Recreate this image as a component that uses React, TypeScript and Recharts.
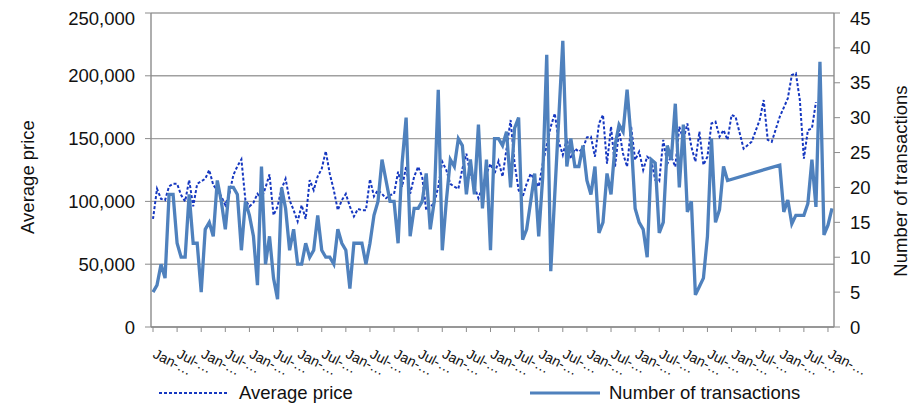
import React from 'react'
import { LineChart, Line, XAxis, YAxis, CartesianGrid, Legend } from 'recharts'

const FONT = '"Liberation Sans", Arial, sans-serif'
const priceColor = '#1537c0'
const countColor = '#4f81bd'
const axisColor = '#8c8c8c'
const gridColor = '#a0a0a0'

const monthNames = ['Jan', 'Feb', 'Mar', 'Apr', 'May', 'Jun', 'Jul', 'Aug', 'Sep', 'Oct', 'Nov', 'Dec']
const startYear = 2005

// average price per month (null = no reading, line is joined across)
const avgPrice: (number | null)[] = [
	86000, 110000, 102000, 101000, 112000, 114000, 114000, 105000, 100000, 117000,
	96000, 114000, null, 118000, 125000, 113000, 109000, 104000, 97000, 106000,
	121000, 128000, 133500, 101000, 96000, 99000, 106000, 102000, 111000, 121500,
	89000, 96000, 110000, 118000, 101000, 93000, 84000, 97000, 86000, 117000,
	109000, 120000, 126000, 140000, 122000, 109000, 93000, 101000, 106000, 96000,
	88000, 94000, 93000, 93000, 117600, 104000, 109000, 106000, 102500, 105000,
	106000, 123600, 111700, 127600, 106000, 119700, 127600, 119700, 93000, null,
	98500, 111700, 131600, 125000, 114000, 111700, 110000, 126000, 138000, 122000,
	111700, 102500, 111700, 122000, 130000, 122000, 132000, 119700, 142000, 164800,
	130000, 109000, 103700, 114000, 122000, null, 111700, 130000, null, 159500,
	170000, 147500, 137000, 150000, 134000, 142000, 139600, 142000, 151000, 151500,
	135600, 162000, 168800, 130000, 159500, 127600, 156800, 138000, 127600, 159500,
	133000, 139600, 125000, 135600, 133000, 117000, 116000, 149000, 130000, 135600,
	127600, 159500, 149000, 162000, 143500, 131600, 155500, 129000, 135600, 162000,
	163500, 151500, 156800, 149000, 168800, 167400, null, 142000, null, 147500,
	null, 164800, 180700, 149000, 147500, null, 167400, null, 182000, 200600,
	202000, 180700, 134000, 156800, 158000, 179000, null, null, null, null,
]

// number of transactions per month
const transactions: (number | null)[] = [
	5, 6, 9, 7, 19, 19, 12, 10, 10, 19,
	12, 12, 5, 14, 15, 13, 21, 18, 14, 20,
	20, 19, 11, 18, 16, 13, 6, 23, 9, 13,
	7, 4, 20, 17, 11, 14, 9, 9, 12, 10,
	11, 16, 11, 10, 10, 9, 14, 12, 11, 5.5,
	12, 12, 12, 9, 12, 16, 18, 24, 21, 18,
	18, 12, 23.5, 30, 13, 17, 17, 18, 22, 14,
	18, 34, 11, 18, 24, 23, 27, 26, 19, 24,
	19, 29, 17, 24, 11, 27, 27, 26, 28, 20,
	28.5, 30, 12.5, 14, 18, 22, 13, 21.5, 39, 8,
	19, 30, 41, 23, 27, 23, 23, 26, 21, 19,
	23, 13.5, 15, 22, 19, 26, 29, 28, 34, 27,
	17, 15, 14, 10, 24, 23.5, 13.5, 15, 26, 24,
	32, 20, 29, 16.5, 18, 4.6, 5.8, 7, 13, 27,
	15, 16.8, 23, 21, null, null, null, null, null, null,
	null, null, null, null, null, null, 23.2, 16.5, 18.2, 14.8,
	16, 16, 16, 17.7, 24, 17.2, 38, 13.2, 14.6, 17,
]

const priceTicks = [0, 50000, 100000, 150000, 200000, 250000]
const countTicks = [0, 5, 10, 15, 20, 25, 30, 35, 40, 45]

const data = transactions.map((count, i) => ({
	month: monthNames[i % 12] + '-' + String((startYear + Math.floor(i / 12)) % 100).padStart(2, '0'),
	price: avgPrice[i],
	count,
}))

const MonthTick = ({ x, y, payload }: any) => {
	const label = String(payload.value).slice(0, 4) + '…'
	const ax = x - 1
	const ay = y + 23
	return (
		<text
			x={ax}
			y={ay}
			transform={`rotate(27 ${ax} ${ay})`}
			fontSize={14}
			fontFamily={FONT}
			fill='#111'
			textAnchor='start'
		>
			{label}
		</text>
	)
}

const LeftTitle = ({ viewBox }: any) => {
	const x = viewBox.x + 26
	const y = viewBox.y + viewBox.height / 2 + 7
	return (
		<text x={x} y={y} transform={`rotate(-90 ${x} ${y})`} textAnchor='middle' fontSize={18.5} fontFamily={FONT} fill='#111'>
			Average price
		</text>
	)
}

const RightTitle = ({ viewBox }: any) => {
	const x = viewBox.x + 73
	const y = viewBox.y + viewBox.height / 2 + 11
	return (
		<text x={x} y={y} transform={`rotate(-90 ${x} ${y})`} textAnchor='middle' fontSize={18.5} fontFamily={FONT} fill='#111'>
			Number of transactions
		</text>
	)
}

const LegendBox = () => (
	<div style={{ position: 'relative', width: 916, height: 22, fontFamily: FONT, fontSize: 18.5, color: '#111' }}>
		<svg style={{ position: 'absolute', left: 151, top: 9 }} width={70} height={4}>
			<line x1={0} y1={2} x2={68} y2={2} stroke={priceColor} strokeWidth={2} strokeDasharray='3 2' />
		</svg>
		<span style={{ position: 'absolute', left: 231, top: 0, lineHeight: '22px', whiteSpace: 'nowrap' }}>Average price</span>
		<svg style={{ position: 'absolute', left: 522, top: 9 }} width={72} height={4}>
			<line x1={0} y1={2} x2={70} y2={2} stroke={countColor} strokeWidth={3} />
		</svg>
		<span style={{ position: 'absolute', left: 601, top: 0, lineHeight: '22px', whiteSpace: 'nowrap' }}>Number of transactions</span>
	</div>
)

export default function App() {
	return (
		<div style={{ width: 916, height: 399, fontFamily: FONT }}>
			<LineChart width={916} height={399} data={data} margin={{ top: 5, right: 0, bottom: 0, left: 0 }}>
				<CartesianGrid yAxisId='left' vertical={false} stroke={gridColor} strokeWidth={1.4} />
				<XAxis
					dataKey='month'
					interval={5}
					padding={{ left: 2, right: 2 }}
					height={58}
					tickSize={5}
					tick={<MonthTick />}
					axisLine={{ stroke: axisColor, strokeWidth: 1.4 }}
					tickLine={{ stroke: axisColor }}
				/>
				<YAxis
					yAxisId='left'
					domain={[0, 250000]}
					ticks={priceTicks}
					width={143}
					tickSize={6}
					tickMargin={10}
					tickFormatter={(v: number) => v.toLocaleString('en-US')}
					tick={{ fontSize: 18.5, fill: '#111', fontFamily: FONT }}
					axisLine={{ stroke: axisColor, strokeWidth: 1.4 }}
					tickLine={{ stroke: axisColor }}
					label={{ content: LeftTitle }}
				/>
				<YAxis
					yAxisId='right'
					orientation='right'
					domain={[0, 45]}
					ticks={countTicks}
					width={90}
					tickSize={6}
					tickMargin={10}
					tick={{ fontSize: 18.5, fill: '#111', fontFamily: FONT }}
					axisLine={{ stroke: axisColor, strokeWidth: 1.4 }}
					tickLine={{ stroke: axisColor }}
					label={{ content: RightTitle }}
				/>
				<Legend
					verticalAlign='bottom'
					content={<LegendBox />}
					wrapperStyle={{ left: 0, top: 374, width: 916, height: 22 }}
				/>
				<Line
					yAxisId='left'
					dataKey='price'
					type='linear'
					stroke={priceColor}
					strokeWidth={2}
					strokeDasharray='3 2'
					dot={false}
					connectNulls
					isAnimationActive={false}
				/>
				<Line
					yAxisId='right'
					dataKey='count'
					type='linear'
					stroke={countColor}
					strokeWidth={3.3}
					dot={false}
					connectNulls
					isAnimationActive={false}
				/>
			</LineChart>
		</div>
	)
}
